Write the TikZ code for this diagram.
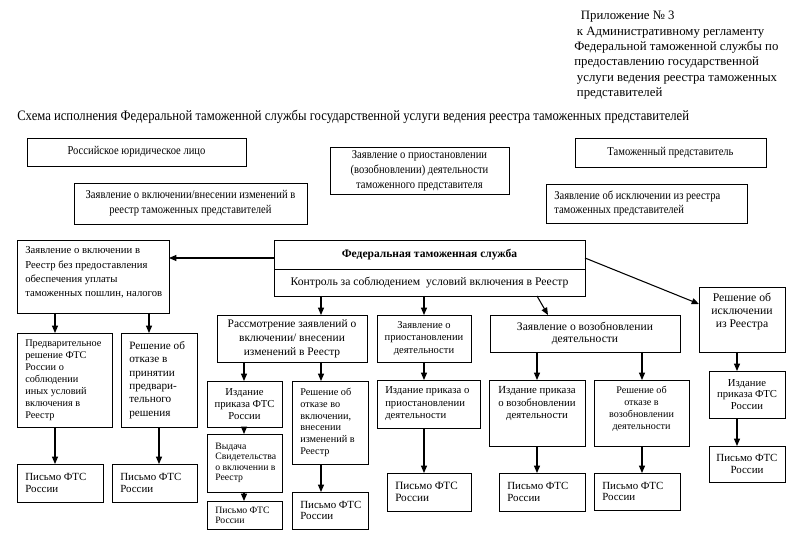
\documentclass[tikz,border=0pt]{standalone}
\usepackage{fontspec}
\setmainfont{Liberation Serif}
\newfontfamily\condfont[FakeStretch=0.88]{Liberation Serif}
\usetikzlibrary{arrows.meta}
\newcommand\mkbox[7][]{%
  \node[bx, minimum width=(#5-#3)*0.75pt, minimum height=(#6-#4)*0.75pt] (#2) at (#3,#4) {};
  \node[txt, #1] (#2-t) at (#2.center) {#7};}
\newcommand\mkboxl[7][]{%
  \node[bx, minimum width=(#5-#3)*0.75pt, minimum height=(#6-#4)*0.75pt] (#2) at (#3,#4) {};
  \node[txt, align=left, anchor=west, #1] (#2-t) at ([xshift=6pt]#2.west) {#7};}
\newcommand\fs[2]{\fontsize{#1}{#2}\selectfont}
\begin{document}
\begin{tikzpicture}[x=0.75pt,y=-0.75pt,
  bx/.style={draw, line width=0.7pt, anchor=north west, inner sep=0pt, outer sep=0pt},
  txt/.style={inner sep=0pt, align=center, font=\fs{8.2}{9}},
  arr/.style={line width=0.8pt, -{Triangle[length=5.5pt,width=4.5pt]}},
]
\useasboundingbox (0,0) rectangle (800,552);
% header
\node[anchor=north west, inner sep=0pt, align=left, font=\fs{9.6}{11.5}] (hdr) at (574,11)
 {\hspace*{5pt}Приложение № 3\\
  \hspace*{2pt}к Административному регламенту\\
  Федеральной таможенной службы по\\
  предоставлению государственной\\
  \hspace*{2pt}услуги ведения реестра таможенных\\
  \hspace*{2pt}представителей};
\node[anchor=north west, inner sep=0pt, font=\condfont\fs{10.8}{13}] (title) at (17,110)
 {Схема исполнения Федеральной таможенной службы государственной услуги ведения реестра таможенных представителей};
% top boxes
\mkbox[font=\condfont\fs{9}{9}]{ryl}{27}{138}{246}{166}{Российское юридическое лицо}
\mkbox[font=\condfont\fs{9}{9}]{tpr}{575}{138}{766}{167}{Таможенный представитель}
\mkbox[font=\condfont\fs{9}{11.3}]{zpv}{330}{147}{509}{194}{Заявление о приостановлении\\(возобновлении) деятельности\\таможенного представителя}
\mkbox[font=\condfont\fs{9}{11}]{zvkl}{74}{183}{307}{224}{Заявление о включении/внесении изменений в\\реестр таможенных представителей}
\mkboxl[font=\condfont\fs{9}{11}]{zisk}{546}{184}{747}{223}{Заявление об исключении из реестра\\таможенных представителей}
% main
\mkboxl[yshift=3pt, font=\fs{8}{10.7}]{zk}{17}{240}{169}{313}{Заявление о включении в\\Реестр без предоставления\\обеспечения уплаты\\таможенных пошлин, налогов}
\mkbox[font=\bfseries\fs{8.65}{10.5}]{fedt}{274}{240}{585}{269}{Федеральная таможенная служба}
\mkbox[font=\fs{8.75}{10.5}]{fedb}{274}{269}{585}{296}{Контроль за соблюдением\ \ условий включения в Реестр}
% left column
\mkboxl[font=\fs{7.7}{9}]{pred}{17}{333}{112}{427}{Предварительное\\решение ФТС\\России о\\соблюдении\\иных условий\\включения в\\Реестр}
\mkboxl[font=\fs{8.4}{10}]{otkp}{121}{333}{197}{427}{Решение об\\отказе в\\принятии\\предвари-\\тельного\\решения}
\mkboxl{pis1}{17}{464}{103}{502}{Письмо ФТС\\России}
\mkboxl{pis2}{112}{464}{197}{502}{Письмо ФТС\\России}
% rassmotrenie
\mkbox[font=\fs{8.6}{10.5}]{rass}{217}{315}{367}{362}{Рассмотрение заявлений о\\включении/ внесении\\изменений в Реестр}
\mkbox[font=\fs{8}{9}]{izd1}{207}{381}{282}{427}{Издание\\приказа ФТС\\России}
\mkboxl[font=\fs{7.3}{7.9}]{vyd}{207}{434}{282}{492}{Выдача\\Свидетельства\\о включении в\\Реестр}
\mkboxl[font=\fs{7.3}{7.5}]{pis3}{207}{501}{282}{529}{Письмо ФТС\\России}
\mkboxl[font=\fs{7.7}{8.8}]{otk}{292}{381}{368}{464}{Решение об\\отказе во\\включении,\\внесении\\изменений в\\Реестр}
\mkboxl[font=\fs{8.2}{8.5}]{pis4}{292}{492}{368}{529}{Письмо ФТС\\России}
% priostanovlenie
\mkbox[font=\fs{7.9}{9.4}]{zpri}{377}{315}{471}{362}{Заявление о\\приостановлении\\деятельности}
\mkboxl[font=\fs{8}{9.4}]{izdpri}{377}{380}{480}{428}{Издание приказа о\\приостановлении\\деятельности}
\mkboxl[font=\fs{8.4}{8.5}]{pis5}{387}{473}{471}{511}{Письмо ФТС\\России}
% vozobnovlenie
\mkbox[font=\fs{8.7}{9.4}]{zvoz}{490}{315}{680}{352}{Заявление о возобновлении\\деятельности}
\mkbox[yshift=7pt, font=\fs{8.1}{9.4}]{izdvoz}{489}{380}{585}{446}{Издание приказа\\о возобновлении\\деятельности}
\mkboxl[font=\fs{8.2}{8.5}]{pis6}{499}{473}{585}{511}{Письмо ФТС\\России}
\mkbox[yshift=3pt, font=\fs{7.6}{9}]{otkv}{594}{380}{689}{446}{Решение об\\отказе в\\возобновлении\\деятельности}
\mkboxl[font=\fs{8.2}{8.5}]{pis7}{594}{473}{680}{510}{Письмо ФТС\\России}
% iskl
\mkbox[yshift=6pt, font=\fs{8.8}{10}]{iskl}{699}{287}{785}{352}{Решение об\\исключении\\из Реестра}
\mkbox[font=\fs{8}{8.7}]{izd2}{709}{371}{785}{418}{Издание\\приказа ФТС\\России}
\mkbox[font=\fs{8.2}{8.7}]{pis8}{709}{446}{785}{482}{Письмо ФТС\\России}
% coordinates for connectors
\coordinate (c55) at (55,0);
\coordinate (c149) at (149,0);
\coordinate (c159) at (159,0);
\coordinate (c244) at (244,0);
\coordinate (c321) at (321,0);
\coordinate (c424) at (424,0);
\coordinate (c537) at (537,0);
\coordinate (c548) at (548,0);
\coordinate (c642) at (642,0);
\coordinate (c737) at (737,0);
\coordinate (r258) at (0,258);
\coordinate (r304) at (0,304);
% connectors
\draw[arr] (fedt.west |- r258) -- (zk.east |- r258);
\draw[arr] (fedt.east |- r258) -- (iskl.west |- r304);
\draw[arr] (fedb.south -| c321) -- (rass.north -| c321);
\draw[arr] (fedb.south -| c424) -- (zpri.north -| c424);
\draw[arr] (fedb.south -| c537) -- (zvoz.north -| c548);
\draw[arr] (zk.south -| c55) -- (pred.north -| c55);
\draw[arr] (zk.south -| c149) -- (otkp.north -| c149);
\draw[arr] (pred.south -| c55) -- (pis1.north -| c55);
\draw[arr] (otkp.south -| c159) -- (pis2.north -| c159);
\draw[arr] (rass.south -| c244) -- (izd1.north -| c244);
\draw[arr] (izd1.south -| c244) -- (vyd.north -| c244);
\draw[arr] (vyd.south -| c244) -- (pis3.north -| c244);
\draw[arr] (rass.south -| c321) -- (otk.north -| c321);
\draw[arr] (otk.south -| c321) -- (pis4.north -| c321);
\draw[arr] (zpri.south -| c424) -- (izdpri.north -| c424);
\draw[arr] (izdpri.south -| c424) -- (pis5.north -| c424);
\draw[arr] (zvoz.south -| c537) -- (izdvoz.north -| c537);
\draw[arr] (izdvoz.south -| c537) -- (pis6.north -| c537);
\draw[arr] (zvoz.south -| c642) -- (otkv.north -| c642);
\draw[arr] (otkv.south -| c642) -- (pis7.north -| c642);
\draw[arr] (iskl.south -| c737) -- (izd2.north -| c737);
\draw[arr] (izd2.south -| c737) -- (pis8.north -| c737);
\end{tikzpicture}
\end{document}
